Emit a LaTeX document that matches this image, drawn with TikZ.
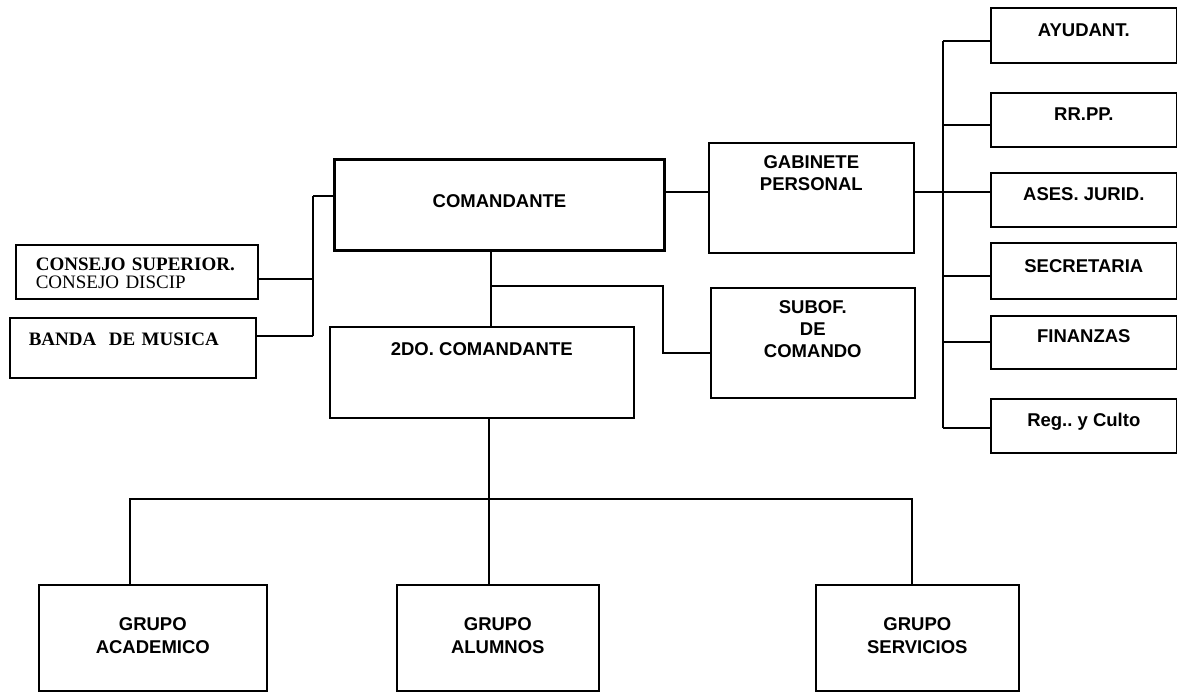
\documentclass[tikz,border=0pt]{standalone}
\usepackage{fontspec}
\setmainfont{Liberation Serif}
\setsansfont{Liberation Sans}
\usepackage{tikz}
\usetikzlibrary{positioning, calc}

\begin{document}
\begin{tikzpicture}[
    x=1pt, y=-1pt,
    unit/.style={draw, line width=1.6pt, inner sep=0pt, anchor=north west, align=center, font=\sffamily\bfseries\fontsize{18.5}{22}\selectfont},
    rbox/.style={unit, minimum width=186pt, text depth=26.5pt},
    gbox/.style={unit, font=\sffamily\bfseries\fontsize{18.5}{23}\selectfont, text height=68.5pt, text depth=37.5pt},
    sbox/.style={unit, align=left, text height=#1, font=\rmfamily\fontsize{19}{18}\selectfont},
    link/.style={line width=1.4pt}
]
    \useasboundingbox (0,0) rectangle (1177,692);

    % Command
    \node[unit, line width=3pt, minimum width=330pt, text height=48pt, text depth=43pt] (com) at (333,158) {COMANDANTE};
    \node[unit, minimum width=304pt, text height=28.5pt, text depth=62.5pt] (c2) at (329,326) {2DO. COMANDANTE};
    \node[unit, minimum width=205pt, text height=47.5pt, text depth=62.5pt] (gab) at (708,142) {GABINETE\\PERSONAL};
    \node[unit, minimum width=204pt, text height=69.5pt, text depth=40.5pt] (sub) at (710,287) {SUBOF.\\DE\\COMANDO};

    % Left side
    \node[sbox=26pt, text width=202pt, inner xsep=20pt, text depth=28pt] (cons) at (15,244) {\textbf{CONSEJO SUPERIOR.}\\CONSEJO DISCIP};
    \node[sbox=28pt, font=\rmfamily\bfseries\fontsize{19}{18}\selectfont, text width=208pt, inner xsep=19pt, text depth=32pt] (banda) at (9,317) {BANDA \ DE MUSICA};

    % Staff
    \node[rbox, text height=28.5pt] (ayu) at (990,7) {AYUDANT.};
    \node[rbox, text height=27.5pt] (rrpp) at (990,92) {RR.PP.};
    \node[rbox, text height=27.5pt] (ases) at (990,172) {ASES. JURID.};
    \node[rbox, text height=29.5pt] (secr) at (990,242) {SECRETARIA};
    \node[rbox, text height=26.5pt] (fin) at (990,315) {FINANZAS};
    \node[rbox, text height=27.5pt] (reg) at (990,398) {Reg..\ y Culto};

    % Groups
    \node[gbox, minimum width=228pt] (aca) at (38,584) {GRUPO\\ACADEMICO};
    \node[gbox, minimum width=202pt] (alu) at (396,584) {GRUPO\\ALUMNOS};
    \node[gbox, minimum width=203pt] (ser) at (815,584) {GRUPO\\SERVICIOS};

    % Bend points
    \coordinate (lb1) at (313,196);
    \coordinate (lb2) at (313,279);
    \coordinate (lb3) at (313,336);
    \coordinate (cv) at (491,286);
    \coordinate (sb1) at (663,286);
    \coordinate (sb2) at (663,353);
    \coordinate (rb1) at (943,41);
    \coordinate (rb2) at (943,192);
    \coordinate (rb3) at (943,428);
    \coordinate (bb) at (489,499);
    \coordinate (bl) at (130,499);
    \coordinate (br) at (912,499);

    % Connections
    \draw[link] (lb1) -- (lb3);
    \draw[link] (lb1) -- (com.west |- lb1);
    \draw[link] (lb2) -- (cons.east |- lb2);
    \draw[link] (lb3) -- (banda.east |- lb3);
    \draw[link] (com.south -| cv) -- (c2.north -| cv);
    \draw[link] (cv) -- (sb1) -- (sb2) -- (sub.west |- sb2);
    \draw[link] (com.east |- rb2) -- (gab.west |- rb2);
    \draw[link] (gab.east |- rb2) -- (ases.west |- rb2);
    \draw[link] (rb1) -- (rb3);
    \foreach \n/\y in {ayu/41, rrpp/125, secr/276, fin/342, reg/428}
        \draw[link] (943,\y) -- (\n.west |- 0,\y);
    \draw[link] (c2.south -| bb) -- (alu.north -| bb);
    \draw[link] (aca.north -| bl) -- (bl) -- (br) -- (ser.north -| br);
\end{tikzpicture}
\end{document}
